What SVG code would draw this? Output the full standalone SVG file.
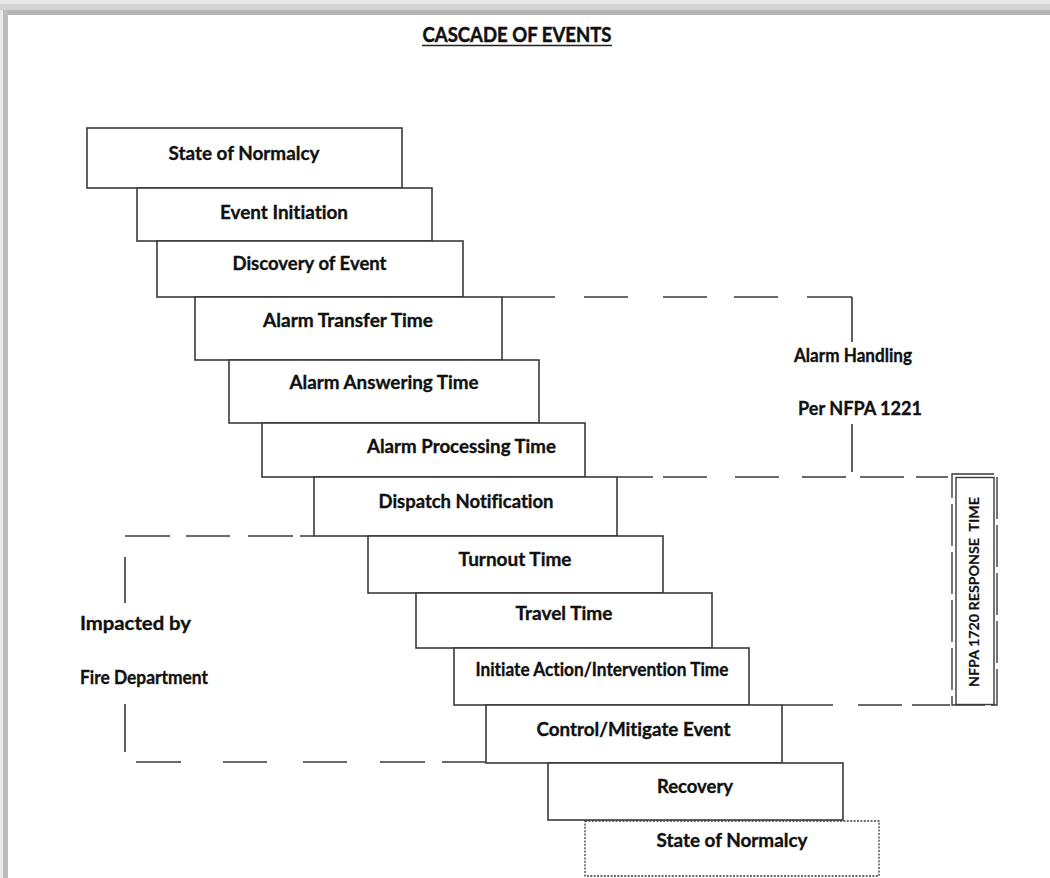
<svg xmlns="http://www.w3.org/2000/svg" width="1050" height="878" viewBox="0 0 1050 878">
<style>
.bx{fill:#fff;stroke:#3a3a3a;stroke-width:1.6}
.dot{fill:#fff;stroke:#3a3a3a;stroke-width:1.3;stroke-dasharray:2 1.4}
.t,.tl{font-family:Lato,"Liberation Sans",sans-serif;font-weight:bold;font-size:19px;fill:#111;stroke:#111;stroke-width:0.35;font-variant-ligatures:none;font-feature-settings:"liga" 0}
.t{text-anchor:middle}
.ln{stroke:#3a3a3a;stroke-width:1.6;fill:none}
</style>
<rect x="0" y="0" width="1050" height="878" fill="#e9e9e9"/>
<rect x="0" y="4" width="1050" height="6" fill="#d3d3d3"/>
<rect x="3" y="10" width="1047" height="5" fill="#b4b4b4"/>
<rect x="3" y="10" width="5" height="868" fill="#bcbcbc"/>
<rect x="8" y="15" width="1042" height="863" fill="#ffffff"/>

<g id="title">
<text x="517" y="42" class="t" style="font-size:21px;stroke-width:0.5" textLength="189" lengthAdjust="spacingAndGlyphs">CASCADE OF EVENTS</text>
<line x1="422" y1="45.5" x2="612" y2="45.5" stroke="#222" stroke-width="1.6"/>
</g>

<g id="connectors">
<path class="ln" d="M502 297H555M584 297H628M663 297H707M734 297H778M807 297H852"/>
<path class="ln" d="M852 297V342M852 424V472"/>
<path class="ln" d="M617 477H653M663 477H707M735 477H779M802 477H846M860 477H904M916 477H948"/>
<path class="ln" d="M782 705H833M858 705H902M912 705H950"/>
<path class="ln" d="M125 536H170M186 536H230M248 536H293M300 536H314"/>
<path class="ln" d="M125 557V603M125 704V752"/>
<path class="ln" d="M136 762H181M223 762H267M303 762H347M380 762H425M442 762H487"/>
</g>

<g id="n1"><rect class="bx" x="87" y="128" width="315" height="60"/><text class="t" x="244" y="160" textLength="151" lengthAdjust="spacingAndGlyphs">State of Normalcy</text></g>
<g id="n2"><rect class="bx" x="137" y="188" width="295" height="53"/><text class="t" x="284" y="219" textLength="128" lengthAdjust="spacingAndGlyphs">Event Initiation</text></g>
<g id="n3"><rect class="bx" x="157" y="241" width="306" height="56"/><text class="t" x="309.5" y="270" textLength="154" lengthAdjust="spacingAndGlyphs">Discovery of Event</text></g>
<g id="n4"><rect class="bx" x="195" y="297" width="307" height="63"/><text class="t" x="348" y="327" textLength="170" lengthAdjust="spacingAndGlyphs">Alarm Transfer Time</text></g>
<g id="n5"><rect class="bx" x="229" y="360" width="310" height="63"/><text class="t" x="384" y="389" textLength="189" lengthAdjust="spacingAndGlyphs">Alarm Answering Time</text></g>
<g id="n6"><rect class="bx" x="262" y="423" width="323" height="54"/><text class="t" x="461.5" y="453" textLength="189" lengthAdjust="spacingAndGlyphs">Alarm Processing Time</text></g>
<g id="n7"><rect class="bx" x="314" y="477" width="303" height="59"/><text class="t" x="466" y="508" textLength="175" lengthAdjust="spacingAndGlyphs">Dispatch Notification</text></g>
<g id="n8"><rect class="bx" x="368" y="536" width="295" height="57"/><text class="t" x="515" y="566" textLength="113" lengthAdjust="spacingAndGlyphs">Turnout Time</text></g>
<g id="n9"><rect class="bx" x="416" y="593" width="296" height="55"/><text class="t" x="564" y="620" textLength="97" lengthAdjust="spacingAndGlyphs">Travel Time</text></g>
<g id="n10"><rect class="bx" x="454" y="648" width="295" height="57"/><text class="t" x="602" y="676" textLength="253" lengthAdjust="spacingAndGlyphs">Initiate Action/Intervention Time</text></g>
<g id="n11"><rect class="bx" x="486" y="705" width="296" height="58" stroke-width="2"/><text class="t" x="633.5" y="736" textLength="194" lengthAdjust="spacingAndGlyphs">Control/Mitigate Event</text></g>
<g id="n12"><rect class="bx" x="548" y="763" width="295" height="57"/><text class="t" x="695" y="793" textLength="76" lengthAdjust="spacingAndGlyphs">Recovery</text></g>
<g id="n13"><rect class="dot" x="585" y="821" width="294" height="55"/><text class="t" x="732" y="847" textLength="151" lengthAdjust="spacingAndGlyphs">State of Normalcy</text></g>

<g id="alarm-handling">
<text class="t" x="853" y="362" textLength="118" lengthAdjust="spacingAndGlyphs">Alarm Handling</text>
<text class="t" x="860" y="415" textLength="124" lengthAdjust="spacingAndGlyphs">Per NFPA 1221</text>
</g>

<g id="impacted">
<text class="tl" x="80" y="630" textLength="111" lengthAdjust="spacingAndGlyphs">Impacted by</text>
<text class="tl" x="80" y="684" textLength="128" lengthAdjust="spacingAndGlyphs">Fire Department</text>
</g>

<g id="nfpa1720">
<rect x="952" y="474" width="45" height="231" fill="none" stroke="#3a3a3a" stroke-width="1.4" stroke-dasharray="42 6"/>
<rect x="956" y="477.5" width="38" height="227" fill="#fff" stroke="#3a3a3a" stroke-width="1.4"/>
<text x="978.5" y="592" transform="rotate(-90 978.5 592)" text-anchor="middle" font-family="Lato,'Liberation Sans',sans-serif" font-weight="bold" font-size="14" fill="#111" stroke="#111" stroke-width="0.2" textLength="190" lengthAdjust="spacingAndGlyphs" xml:space="preserve">NFPA 1720 RESPONSE  TIME</text>
</g>
</svg>
